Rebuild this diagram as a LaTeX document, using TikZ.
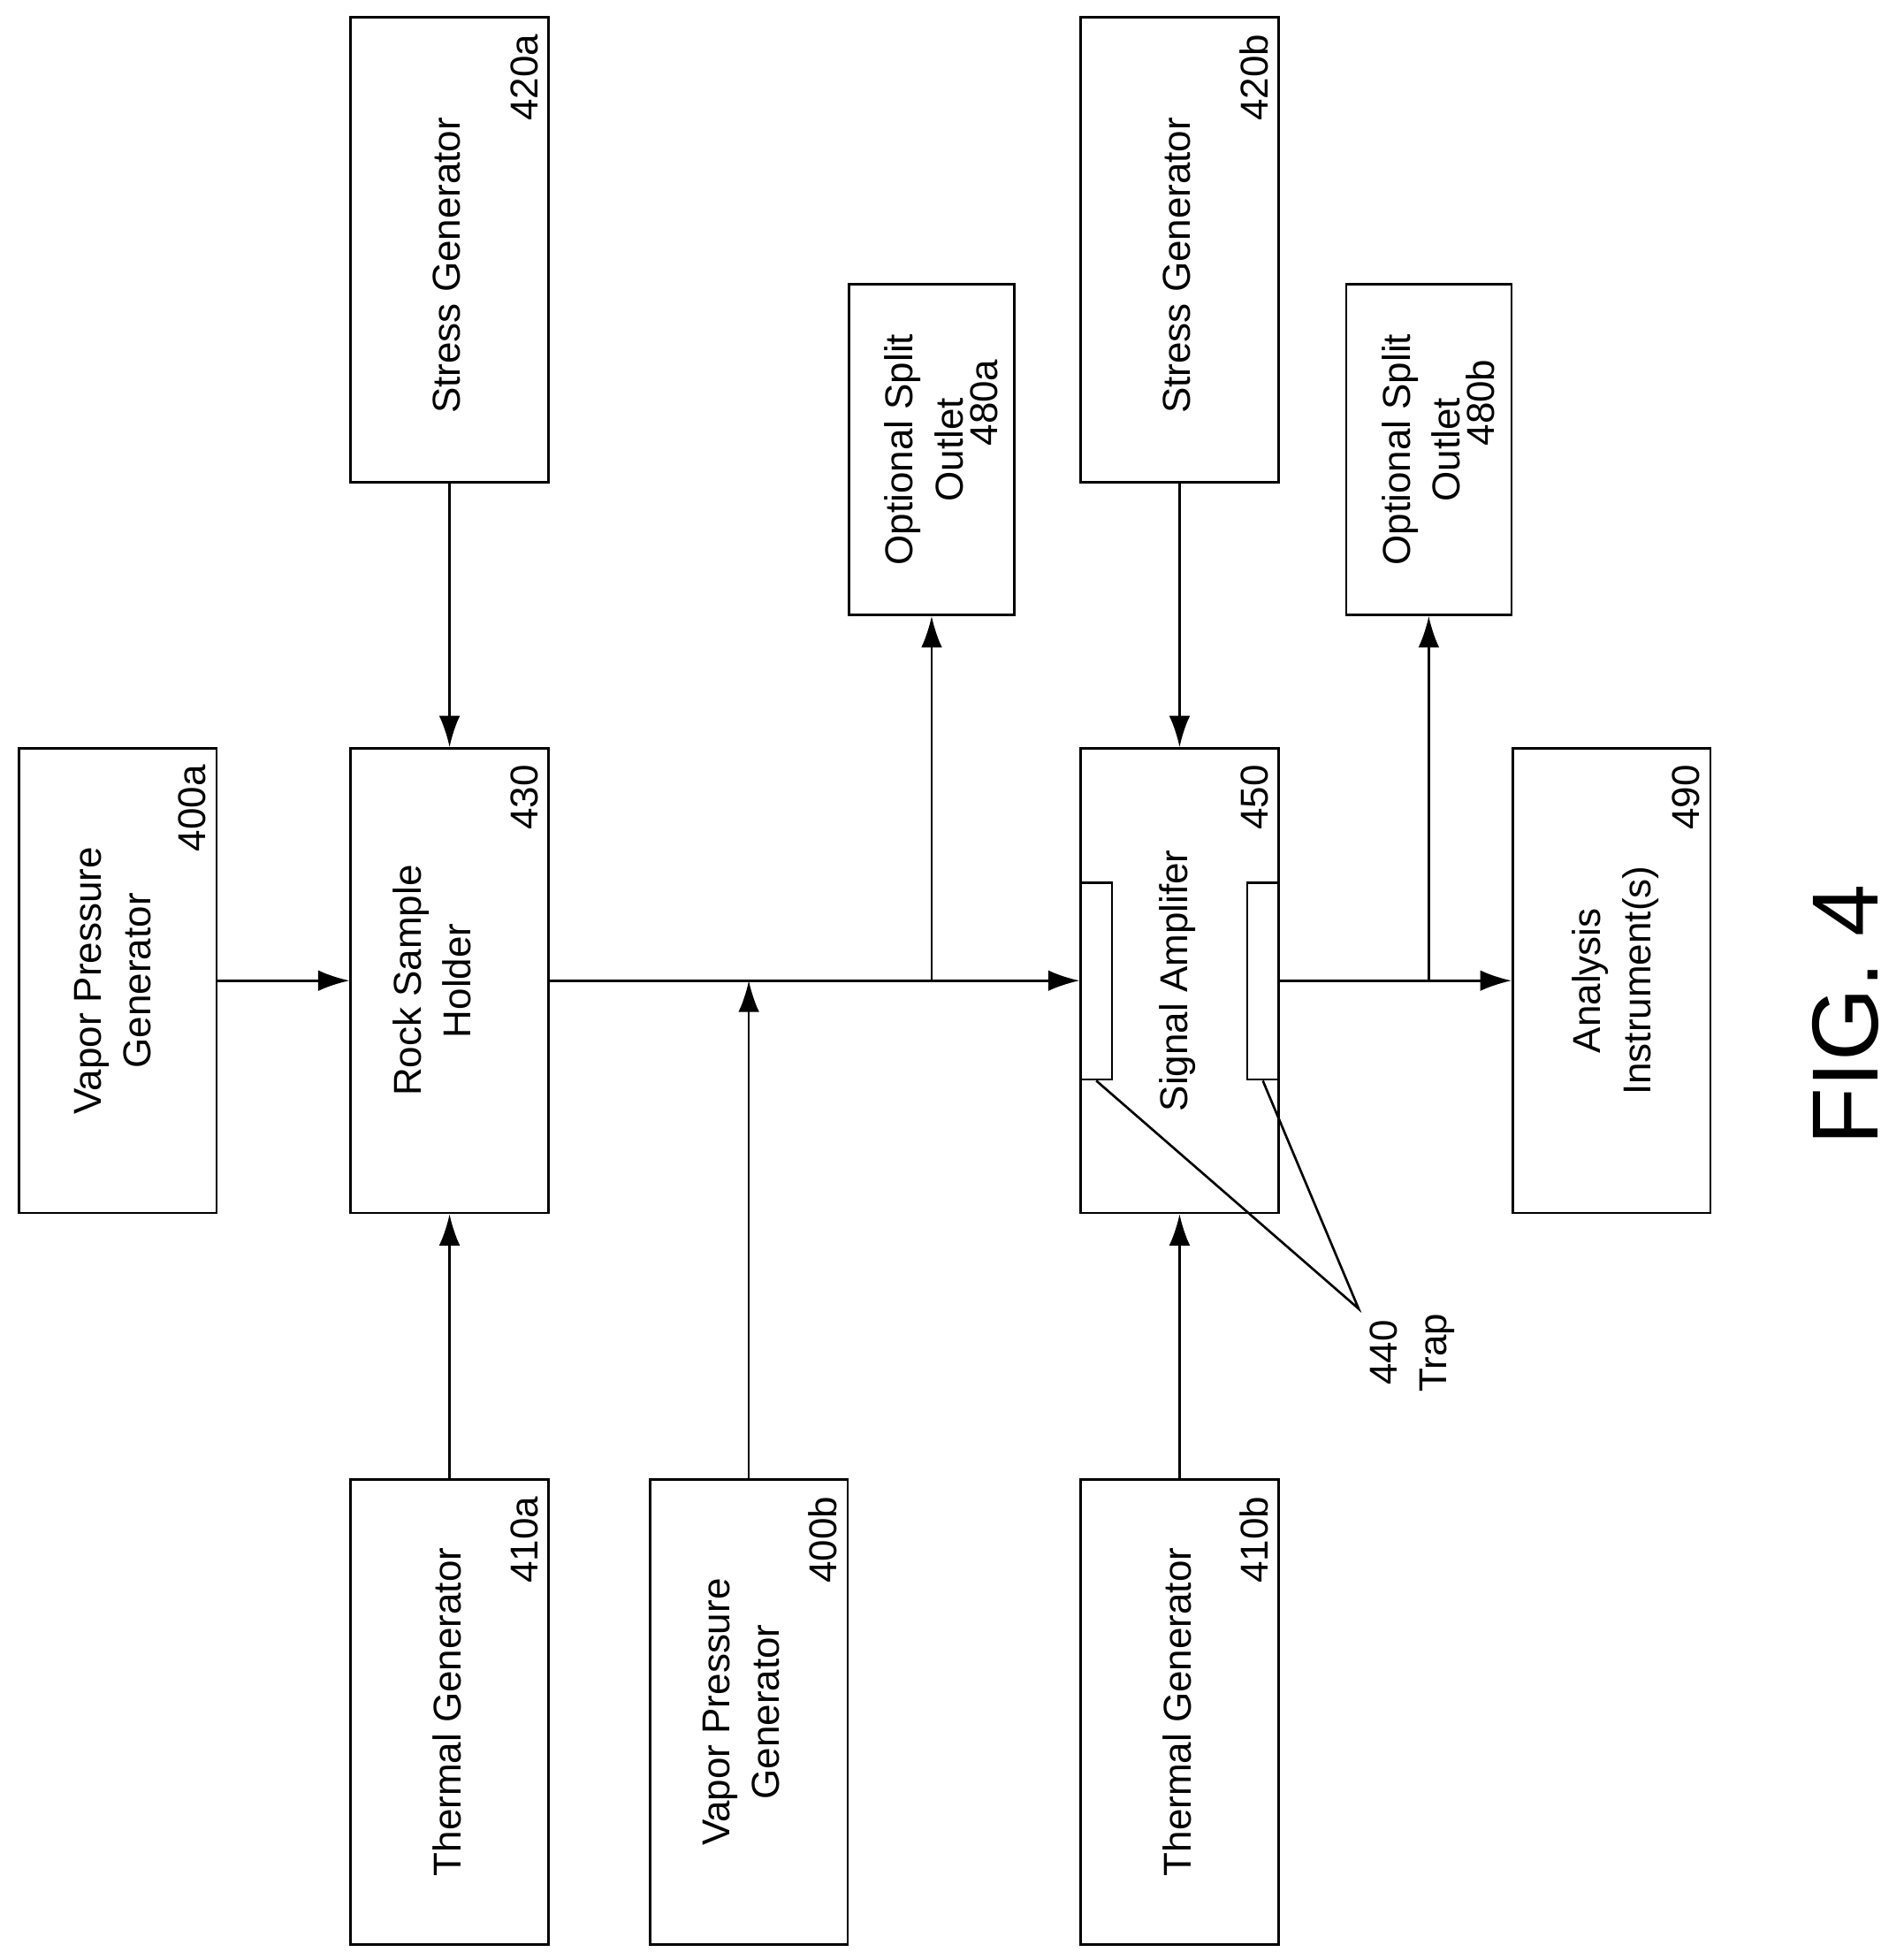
\documentclass[tikz,border=0pt]{standalone}
\usepackage{fontspec}
\setmainfont{Liberation Sans}
\usetikzlibrary{arrows.meta}
\begin{document}
\begin{tikzpicture}[x=0.03cm,y=-0.03cm,
  line width=1.6pt,
  big/.style={draw,minimum width=4.74cm,minimum height=11.13cm,inner sep=0},
  small/.style={draw,minimum width=3.96cm,minimum height=7.92cm,inner sep=0},
  trap/.style={draw,minimum width=0.75cm,minimum height=4.71cm,inner sep=0},
  txt/.style={rotate=90,align=center,font=\fontsize{26.5}{34}\selectfont},
  num/.style={rotate=90,anchor=south east,font=\fontsize{26.5}{34}\selectfont,inner sep=0},
  arr/.style={-{Latex[length=0.75cm,width=0.5cm]}}]
\useasboundingbox (0,0) rectangle (1520,1565);
\node[big] (v400a) at (94,783) {};
\node[big] (s420a) at (359,199.5) {};
\node[big] (r430) at (359,783) {};
\node[big] (t410a) at (359,1367) {};
\node[big] (v400b) at (598,1367) {};
\node[small] (o480a) at (744,359) {};
\node[big] (s420b) at (942,199.5) {};
\node[big] (a450) at (942,783) {};
\node[big] (t410b) at (942,1367) {};
\node[small] (o480b) at (1141,359) {};
\node[big] (i490) at (1287,783) {};
\node[trap] (trL) at (875.5,783.5) {};
\node[trap] (trR) at (1008.5,783.5) {};
% texts
\node[txt] (l1) at (90,783) {Vapor Pressure\\Generator};
\node[txt] (l2) at (357,212) {Stress Generator};
\node[txt] (l3) at (345,783) {Rock Sample\\Holder};
\node[txt] (l4) at (357,1367) {Thermal Generator};
\node[txt] (l5) at (592,1367) {Vapor Pressure\\Generator};
\node[txt] (l6) at (738,359) {Optional Split\\Outlet};
\node[txt] (l7) at (940,212) {Stress Generator};
\node[txt] (l8) at (940,783) {Signal Amplifer};
\node[txt] (l9) at (940,1367) {Thermal Generator};
\node[txt] (l10) at (1135,359) {Optional Split\\Outlet};
\node[txt] (l11) at (1290,783) {Analysis\\Instrument(s)};
\node[num] (n1) at ([xshift=-0.25cm,yshift=-0.4cm]v400a.north east) {400a};
\node[num] (n2) at ([xshift=-0.25cm,yshift=-0.4cm]s420a.north east) {420a};
\node[num] (n3) at ([xshift=-0.25cm,yshift=-0.4cm]r430.north east) {430};
\node[num] (n4) at ([xshift=-0.25cm,yshift=-0.4cm]t410a.north east) {410a};
\node[num] (n5) at ([xshift=-0.25cm,yshift=-0.4cm]v400b.north east) {400b};
\node[num] (n6) at ([xshift=-0.4cm,yshift=-1.8cm]o480a.north east) {480a};
\node[num] (n7) at ([xshift=-0.25cm,yshift=-0.4cm]s420b.north east) {420b};
\node[num] (n8) at ([xshift=-0.25cm,yshift=-0.4cm]a450.north east) {450};
\node[num] (n9) at ([xshift=-0.25cm,yshift=-0.4cm]t410b.north east) {410b};
\node[num] (n10) at ([xshift=-0.4cm,yshift=-1.8cm]o480b.north east) {480b};
\node[num] (n11) at ([xshift=-0.25cm,yshift=-0.4cm]i490.north east) {490};
\node[txt] (trapl) at (1128,1080) {440\\Trap};
\node[rotate=90,font=\fontsize{64}{70}\selectfont] (fig) at (1474,810) {FIG. 4};
% connectors
\coordinate (j1) at (598,783);
\coordinate (j2) at (744,783);
\coordinate (j3) at (1141,783);
\coordinate (tp) at (1085,1045);
\draw[arr] (v400a.east) -- (r430.west);
\draw[arr] (r430.east) -- (a450.west);
\draw[arr] (a450.east) -- (i490.west);
\draw[arr] (v400b.north) -- (j1);
\draw[arr] (j2) -- (o480a.south);
\draw[arr] (j3) -- (o480b.south);
\draw[arr] (s420a.south) -- (r430.north);
\draw[arr] (t410a.north) -- (r430.south);
\draw[arr] (s420b.south) -- (a450.north);
\draw[arr] (t410b.north) -- (a450.south);
\draw (trL.south) -- (tp) -- (trR.south);
\end{tikzpicture}
\end{document}
